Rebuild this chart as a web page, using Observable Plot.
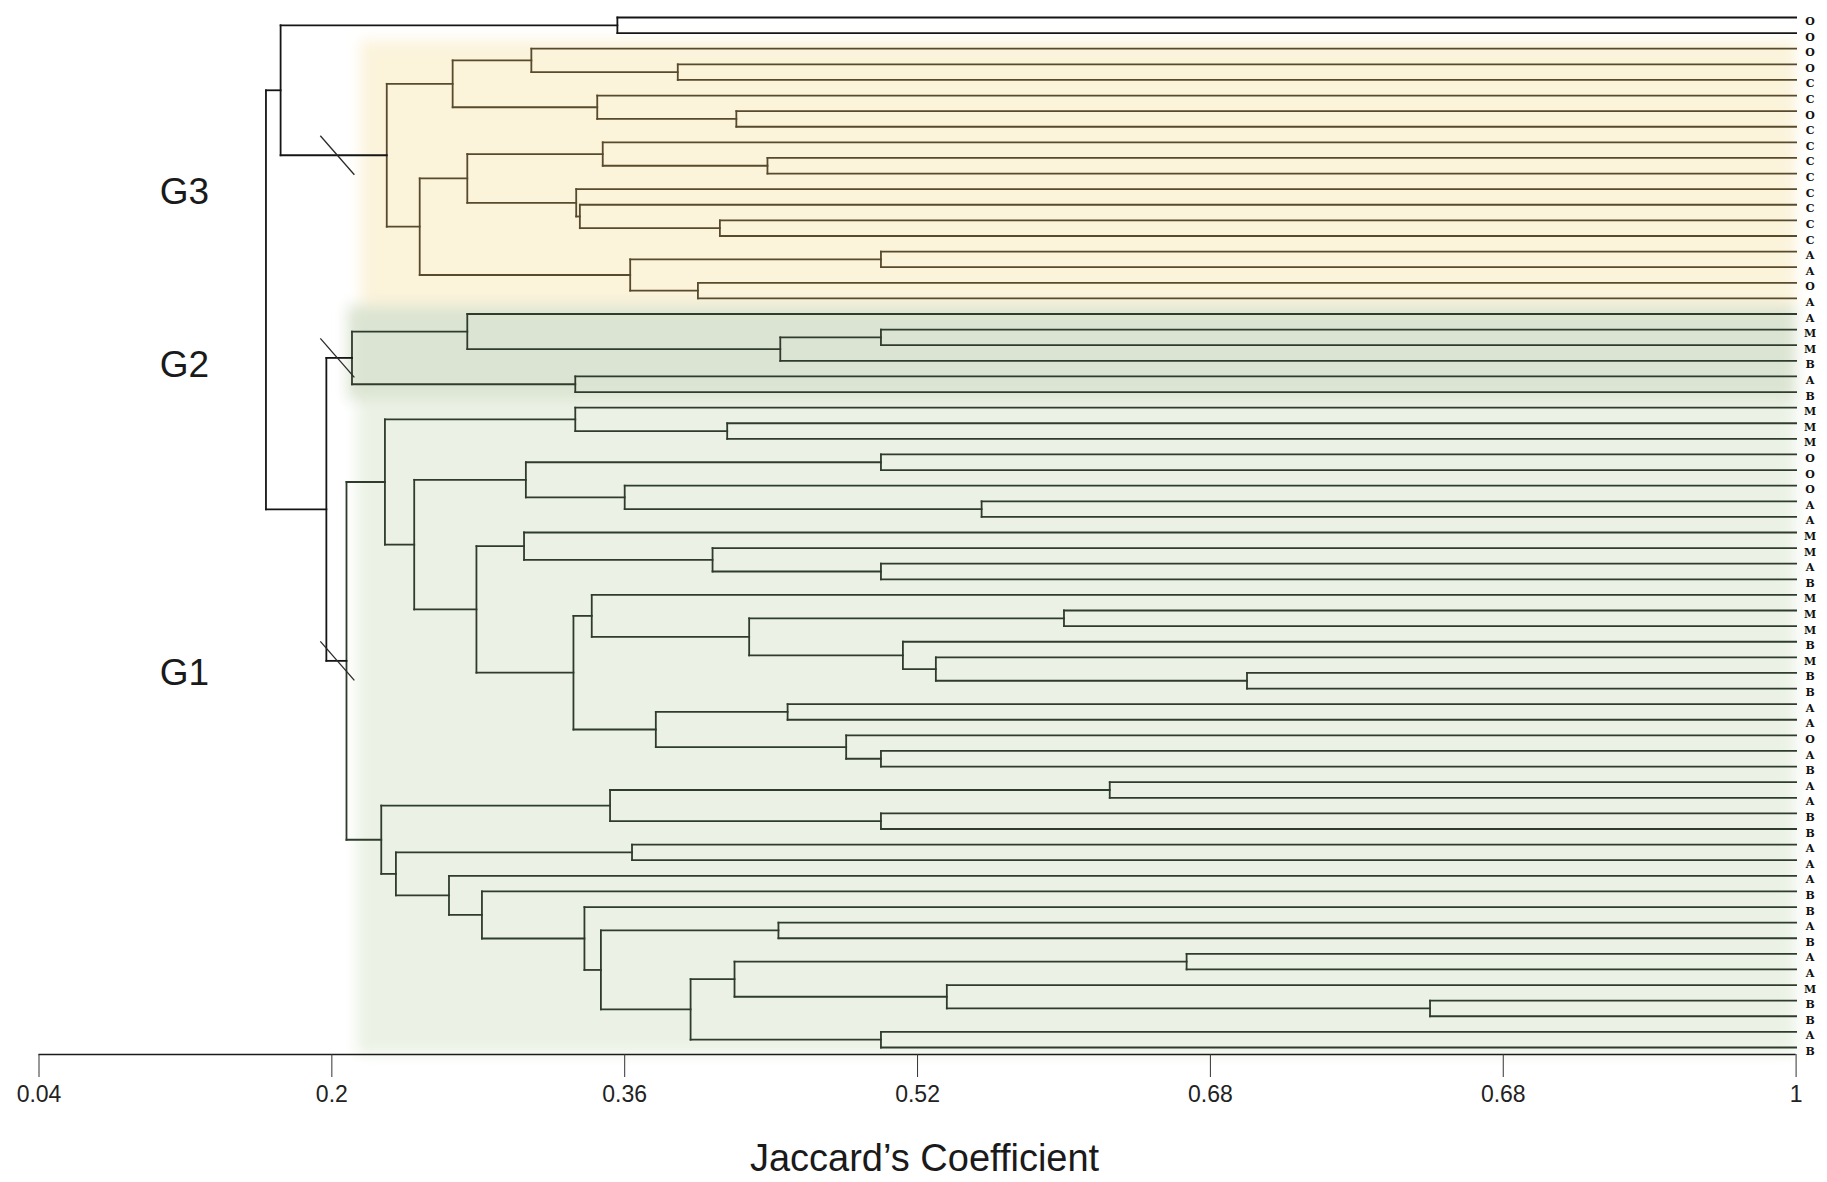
<!DOCTYPE html>
<html>
<head>
<meta charset="utf-8">
<script src="https://cdn.jsdelivr.net/npm/d3@7"></script>
<script src="https://cdn.jsdelivr.net/npm/@observablehq/plot@0.6"></script>
<style>
  html, body { margin: 0; padding: 0; background: #ffffff; }
  #chart { width: 1827px; height: 1182px; }
</style>
</head>
<body>
<div id="chart"></div>
<script>
// ---------- DATA ----------
// leaf labels, top to bottom
const leafLabels = [
  "O","O","O","O","C","C","O","C","C","C",
  "C","C","C","C","C","A","A","O","A","A",
  "M","M","B","A","B","M","M","M","O","O",
  "O","A","A","M","M","A","B","M","M","M",
  "B","M","B","B","A","A","O","A","B","A",
  "A","B","B","A","A","A","B","B","A","B",
  "A","A","M","B","B","A","B"
];
const leafLevel = 1; // similarity at which leaves sit

// clusters (groups)
const groupNames     = ["G3", "G2", "G1"];
const groupFirstLeaf = [2, 19, 25];
const groupLastLeaf  = [18, 24, 66];
const groupBandStart = [0.216, 0.209, 0.214];
const groupFill      = ["#fbf3da", "#dbe4d2", "#ebf2e5"];
const groupLine      = ["#574a2d", "#2f3b2d", "#2f3b2d"];
const groupLabelPos  = [11.2, 22.3, 42.0];
const groupLabelX    = 0.1195;
const groupNode      = ["g3", "g2", "b"];
const cutLevel       = 0.203;

// agglomeration (a, b: leaf index or earlier merge id; h: Jaccard similarity)
const merges = [
  {id: "n01",   a: 0,  b: 1,  h: 0.356},
  {id: "n34",   a: 3,  b: 4,  h: 0.389},
  {id: "n2_34", a: 2,  b: "n34", h: 0.309},
  {id: "n67",   a: 6,  b: 7,  h: 0.421},
  {id: "n5_67", a: 5,  b: "n67", h: 0.345},
  {id: "g3a",   a: "n2_34", b: "n5_67", h: 0.266},
  {id: "n910",  a: 9,  b: 10, h: 0.438},
  {id: "n8_910",a: 8,  b: "n910", h: 0.348},
  {id: "n1314", a: 13, b: 14, h: 0.412},
  {id: "n12_",  a: 12, b: "n1314", h: 0.3355},
  {id: "n11_",  a: 11, b: "n12_", h: 0.3335},
  {id: "g3b1",  a: "n8_910", b: "n11_", h: 0.274},
  {id: "n1516", a: 15, b: 16, h: 0.500},
  {id: "n1718", a: 17, b: 18, h: 0.400},
  {id: "g3b2",  a: "n1516", b: "n1718", h: 0.363},
  {id: "g3b",   a: "g3b1", b: "g3b2", h: 0.248},
  {id: "g3",    a: "g3a", b: "g3b", h: 0.230},
  {id: "top",   a: "n01", b: "g3", h: 0.172},

  {id: "n2021", a: 20, b: 21, h: 0.500},
  {id: "n2022", a: "n2021", b: 22, h: 0.445},
  {id: "n19_",  a: 19, b: "n2022", h: 0.274},
  {id: "n2324", a: 23, b: 24, h: 0.333},
  {id: "g2",    a: "n19_", b: "n2324", h: 0.211},

  {id: "n2627", a: 26, b: 27, h: 0.416},
  {id: "n25_",  a: 25, b: "n2627", h: 0.333},
  {id: "n2829", a: 28, b: 29, h: 0.500},
  {id: "n3132", a: 31, b: 32, h: 0.555},
  {id: "n30_",  a: 30, b: "n3132", h: 0.360},
  {id: "e",     a: "n2829", b: "n30_", h: 0.306},
  {id: "n3536", a: 35, b: 36, h: 0.500},
  {id: "n34_",  a: 34, b: "n3536", h: 0.408},
  {id: "g",     a: 33, b: "n34_", h: 0.305},
  {id: "n3839", a: 38, b: 39, h: 0.600},
  {id: "n4243", a: 42, b: 43, h: 0.700},
  {id: "m",     a: 41, b: "n4243", h: 0.530},
  {id: "l",     a: 40, b: "m", h: 0.512},
  {id: "j",     a: "n3839", b: "l", h: 0.428},
  {id: "i",     a: 37, b: "j", h: 0.342},
  {id: "p",     a: 44, b: 45, h: 0.449},
  {id: "n4748", a: 47, b: 48, h: 0.500},
  {id: "q",     a: 46, b: "n4748", h: 0.481},
  {id: "o",     a: "p", b: "q", h: 0.377},
  {id: "h",     a: "i", b: "o", h: 0.332},
  {id: "f",     a: "g", b: "h", h: 0.279},
  {id: "d",     a: "e", b: "f", h: 0.245},
  {id: "c",     a: "n25_", b: "d", h: 0.229},
  {id: "n4950", a: 49, b: 50, h: 0.625},
  {id: "n5152", a: 51, b: 52, h: 0.500},
  {id: "s",     a: "n4950", b: "n5152", h: 0.352},
  {id: "n5354", a: 53, b: 54, h: 0.364},
  {id: "n5859", a: 58, b: 59, h: 0.444},
  {id: "n6061", a: 60, b: 61, h: 0.667},
  {id: "n6364", a: 63, b: 64, h: 0.800},
  {id: "n62_",  a: 62, b: "n6364", h: 0.536},
  {id: "z",     a: "n6061", b: "n62_", h: 0.420},
  {id: "n6566", a: 65, b: 66, h: 0.500},
  {id: "y",     a: "z", b: "n6566", h: 0.396},
  {id: "x",     a: "n5859", b: "y", h: 0.347},
  {id: "w",     a: 57, b: "x", h: 0.338},
  {id: "v",     a: 56, b: "w", h: 0.282},
  {id: "u",     a: 55, b: "v", h: 0.264},
  {id: "t",     a: "n5354", b: "u", h: 0.235},
  {id: "r",     a: "s", b: "t", h: 0.227},
  {id: "b",     a: "c", b: "r", h: 0.208},
  {id: "a",     a: "g2", b: "b", h: 0.197},
  {id: "root",  a: "top", b: "a", h: 0.164}
];

// axis
const xTicks      = [0.04, 0.2, 0.36, 0.52, 0.68, 0.84, 1];
const xTickLabels = ["0.04", "0.2", "0.36", "0.52", "0.68", "0.68", "1"];
const xTitle      = "Jaccard\u2019s Coefficient";

// ---------- LAYOUT (derived) ----------
const yMax = leafLabels.length - 1 + 0.45;
function groupOfLeaf(i) {
  for (let g = 0; g < groupNames.length; g++)
    if (i >= groupFirstLeaf[g] && i <= groupLastLeaf[g]) return g;
  return -1;
}
const nodes = new Map();
leafLabels.forEach((t, i) => nodes.set(i, {x: leafLevel, y: i, leaves: [i]}));
const segs = [];
for (const m of merges) {
  const A = nodes.get(m.a), B = nodes.get(m.b);
  const leaves = A.leaves.concat(B.leaves);
  const gs = new Set(leaves.map(groupOfLeaf));
  const g = gs.size === 1 ? [...gs][0] : -1;
  const color = g >= 0 ? groupLine[g] : "#151515";
  segs.push({x1: m.h, x2: m.h, y1: A.y, y2: B.y, color});
  segs.push({x1: m.h, x2: A.x, y1: A.y, y2: A.y, color});
  segs.push({x1: m.h, x2: B.x, y1: B.y, y2: B.y, color});
  nodes.set(m.id, {x: m.h, y: (A.y + B.y) / 2, leaves});
}
const bands = groupNames.map((n, g) => ({
  x1: groupBandStart[g], x2: leafLevel,
  y1: groupFirstLeaf[g] - 0.5, y2: Math.min(groupLastLeaf[g] + 0.5, yMax),
  fill: groupFill[g]
}));
const slashes = groupNames.map((n, g) => {
  const yn = nodes.get(groupNode[g]).y;
  return {x1: cutLevel - 0.0093, x2: cutLevel + 0.0093, y1: yn - 1.25, y2: yn + 1.25};
});
const groupLabels = groupNames.map((n, g) => ({n, x: groupLabelX, y: groupLabelPos[g]}));
const leafRows = leafLabels.map((t, i) => ({t, i}));

// ---------- PLOT ----------
const chart = Plot.plot({
  width: 1827,
  height: 1182,
  marginLeft: 38.5,
  marginRight: 31.4,
  marginTop: 17,
  marginBottom: 128,
  style: {background: "#ffffff", fontFamily: "'Liberation Sans', Arial, sans-serif"},
  x: {domain: [0.04, 1]},
  y: {domain: [0, yMax], reverse: true, axis: null},
  color: {type: "identity"},
  marks: [
    Plot.rect(bands, {x1: "x1", x2: "x2", y1: "y1", y2: "y2", fill: "fill"}),
    Plot.link(segs, {x1: "x1", x2: "x2", y1: "y1", y2: "y2", stroke: "color",
                     strokeWidth: 1.8, strokeLinecap: "square"}),
    Plot.link(slashes, {x1: "x1", x2: "x2", y1: "y1", y2: "y2", stroke: "#2a2a2a", strokeWidth: 1.3}),
    Plot.text(leafRows, {x: () => leafLevel, y: "i", text: "t", dx: 14, dy: 4,
                         fontSize: 11, fontWeight: "bold", fontFamily: "'DejaVu Serif', serif", fill: "#111"}),
    Plot.text(groupLabels, {x: "x", y: "y", text: "n", fontSize: 37, fill: "#1a1a1a"}),
    Plot.ruleY([yMax], {x1: 0.04, x2: 1, stroke: "#1a1a1a", strokeWidth: 1.6}),
    Plot.axisX(xTicks, {anchor: "bottom", tickSize: 23, tickPadding: 8, fontSize: 23,
                        tickFormat: d => xTickLabels[xTicks.indexOf(d)], label: null,
                        stroke: "#333", fill: "#222"}),
    Plot.text([xTitle], {frameAnchor: "bottom", lineAnchor: "middle", dy: 104, dx: 7,
                         fontSize: 38, fill: "#1a1a1a"})
  ]
});

// soft edges on the coloured group bands
const svg = d3.select(chart);
const defs = svg.insert("defs", ":first-child");
const flt = defs.append("filter").attr("id", "softband")
  .attr("x", "-5%").attr("y", "-5%").attr("width", "110%").attr("height", "110%");
flt.append("feGaussianBlur").attr("stdDeviation", 7);
svg.selectAll('g[aria-label="rect"]').attr("filter", "url(#softband)");

document.getElementById("chart").appendChild(chart);
</script>
</body>
</html>
